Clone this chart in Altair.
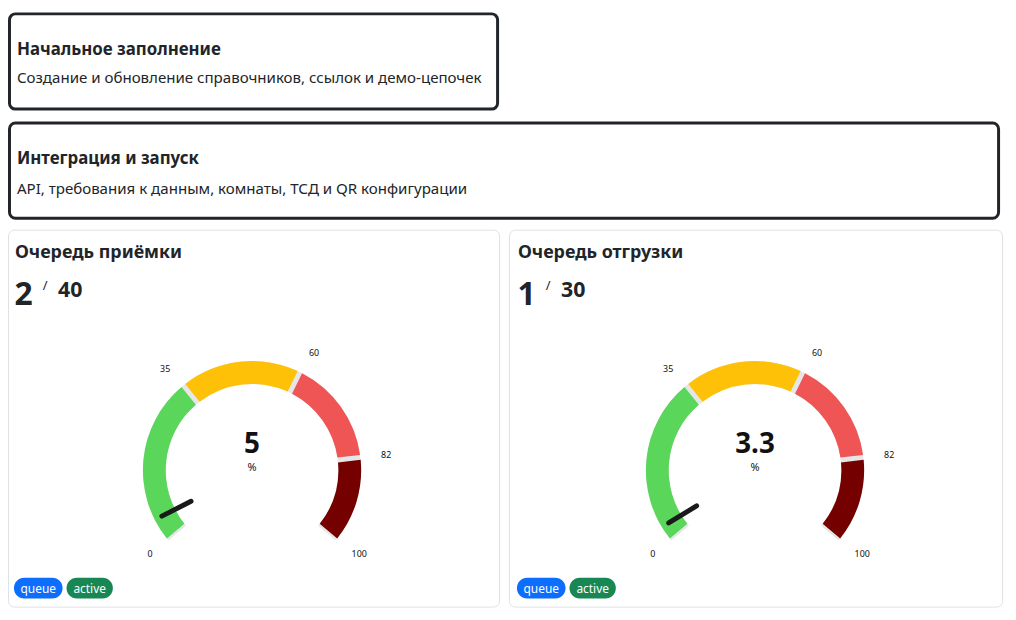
import math
import altair as alt
import pandas as pd

# ---------------- data ----------------
SECTION_TITLES = ["Начальное заполнение", "Интеграция и запуск"]
SECTION_SUBTITLES = [
    "Создание и обновление справочников, ссылок и демо-цепочек",
    "API, требования к данным, комнаты, ТСД и QR конфигурации",
]
GAUGE_TITLES = ["Очередь приёмки", "Очередь отгрузки"]
GAUGE_COUNTS = ["2", "1"]
GAUGE_TOTALS = ["40", "30"]
GAUGE_PERCENT = [5, 3.3]
GAUGE_UNIT = "%"
THRESHOLDS = [0, 35, 60, 82, 100]
SEGMENT_COLORS = ["#5ad75a", "#ffc107", "#f05555", "#750000"]
BADGES = ["queue", "active"]
BADGE_COLORS = ["#0d6efd", "#198754"]

# ---------------- style / layout ----------------
FONT = "Noto Sans"
TEXT = "#212529"
W, H = 1008, 604
SWEEP = 130 * math.pi / 180


def px(x):
    return x - 6


def py(y):
    return y - 8


def one(**kw):
    return pd.DataFrame({k: [v] for k, v in kw.items()})


layers = []


def box(x0, x1, y0, y1, stroke, sw, r, fill="white"):
    layers.append(
        alt.Chart(one(a=0)).mark_rect(
            fill=fill, stroke=stroke, strokeWidth=sw, cornerRadius=r
        ).encode(
            x=alt.value(px(x0)), x2=alt.value(px(x1)),
            y=alt.value(py(y0)), y2=alt.value(py(y1)),
        )
    )


def text(t, x, y, size, weight="normal", color=TEXT, align="left"):
    layers.append(
        alt.Chart(one(t=t)).mark_text(
            font=FONT, fontSize=size, fontWeight=weight, color=color,
            align=align, baseline="alphabetic",
        ).encode(text="t:N", x=alt.value(px(x)), y=alt.value(py(y)))
    )


# section boxes
box(7.5, 499.5, 11.5, 107.5, TEXT, 3, 6)
text(SECTION_TITLES[0], 15, 52.5, 17, "bold")
text(SECTION_SUBTITLES[0], 15, 81.5, 15.2)

box(7.5, 1004.5, 121.5, 217.5, TEXT, 3, 6)
text(SECTION_TITLES[1], 15, 163, 17, "bold")
text(SECTION_SUBTITLES[1], 15, 193, 15.2)

theta_scale = alt.Scale(domain=[THRESHOLDS[0], THRESHOLDS[-1]], range=[-SWEEP, SWEEP])

seg_df = pd.DataFrame({
    "start": THRESHOLDS[:-1],
    "end": THRESHOLDS[1:],
    "color": SEGMENT_COLORS,
})
track_df = pd.DataFrame({"start": [THRESHOLDS[0]], "end": [THRESHOLDS[-1]]})
tick_df = pd.DataFrame({"v": THRESHOLDS})
mid = (THRESHOLDS[0] + THRESHOLDS[-1]) / 2

for i in range(2):
    ox = 507 * i
    # card
    box((6.5 if i == 0 else 4.5) + ox, 501.5 + ox, 229.5, 609.5, "#dee2e6", 1, 6)
    text(GAUGE_TITLES[i], 13 + ox, 257.3, 18, "bold")
    text(GAUGE_COUNTS[i], 12.5 + ox, 304.7, 32, "bold")
    text("/", 41 + ox, 289.5, 13)
    text(GAUGE_TOTALS[i], 56.5 + ox, 297, 21.5, "bold")

    cx, cy = px(252 + ox), py(471.5)

    # grey track
    layers.append(
        alt.Chart(track_df).mark_arc(radius=110, radius2=87, color="#e6e6e6").encode(
            theta=alt.Theta("start:Q", scale=theta_scale),
            theta2="end:Q",
            x=alt.value(cx), y=alt.value(cy),
        )
    )
    # coloured segments
    layers.append(
        alt.Chart(seg_df).mark_arc(radius=110, radius2=87, padAngle=0.035).encode(
            theta=alt.Theta("start:Q", scale=theta_scale),
            theta2="end:Q",
            color=alt.Color("color:N", scale=None),
            x=alt.value(cx), y=alt.value(cy),
        )
    )
    # tick labels (left half right-aligned, right half left-aligned)
    for flt, al in ((f"datum.v < {mid}", "right"), (f"datum.v >= {mid}", "left")):
        layers.append(
            alt.Chart(tick_df).transform_filter(flt).mark_text(
                radius=131, font=FONT, fontSize=9, color="#111111",
                align=al, baseline="middle",
            ).encode(
                theta=alt.Theta("v:Q", scale=theta_scale),
                text="v:N",
                x=alt.value(cx), y=alt.value(cy),
            )
        )
    # needle
    needle_df = pd.DataFrame({"value": [GAUGE_PERCENT[i]]})
    lo, hi = THRESHOLDS[0], THRESHOLDS[-1]
    ang = f"(-{SWEEP} + 2*{SWEEP}*(datum.value-{lo})/({hi}-{lo}))"
    layers.append(
        alt.Chart(needle_df).transform_calculate(
            nx1=f"{cx} + 69*sin({ang})",
            ny1=f"{cy} - 69*cos({ang})",
            nx2=f"{cx} + 102*sin({ang})",
            ny2=f"{cy} - 102*cos({ang})",
        ).mark_rule(strokeWidth=5, strokeCap="round", color="#1a1a1a").encode(
            x=alt.X("nx1:Q", scale=None), x2="nx2:Q",
            y=alt.Y("ny1:Q", scale=None), y2="ny2:Q",
        )
    )
    # centre value
    val_df = pd.DataFrame({"value": [GAUGE_PERCENT[i]], "unit": [GAUGE_UNIT]})
    layers.append(
        alt.Chart(val_df).mark_text(
            font=FONT, fontSize=28, fontWeight="bold", color="#111111",
            align="center", baseline="alphabetic",
        ).encode(text="value:N", x=alt.value(cx), y=alt.value(py(454.3)))
    )
    layers.append(
        alt.Chart(val_df).mark_text(
            font=FONT, fontSize=11, color="#111111",
            align="center", baseline="alphabetic",
        ).encode(text="unit:N", x=alt.value(cx), y=alt.value(py(472.5)))
    )
    # badges
    bx = [(12, 61), (65, 111.7)]
    for b in range(2):
        x0, x1 = bx[b]
        box(x0 + ox, x1 + ox, 580, 600.7, BADGE_COLORS[b], 0, 10.3, fill=BADGE_COLORS[b])
        text(BADGES[b], (x0 + x1) / 2 + ox, 594.8, 12, "normal", "white", "center")

chart = alt.layer(*layers).properties(
    width=W, height=H, autosize="none", padding=0
).configure_view(stroke=None)

chart.save("out.html", embed_options={"renderer": "svg", "actions": False})
